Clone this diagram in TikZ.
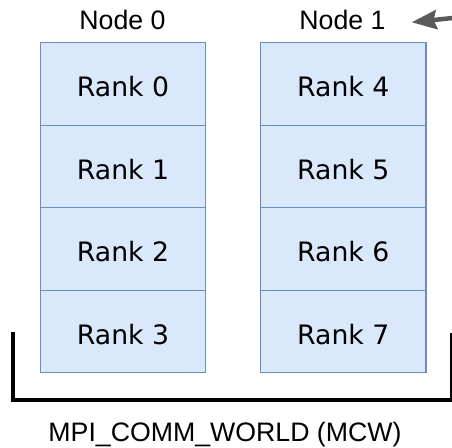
\documentclass[tikz,border=0pt]{standalone}
\usepackage{fontspec}
\setmainfont{Liberation Sans}
\newfontfamily\rankfont{DejaVu Sans}
\usetikzlibrary{arrows.meta}

\definecolor{rankfill}{HTML}{DAE8FC}
\definecolor{rankline}{HTML}{6C8EBF}
\definecolor{pointer}{HTML}{5A5A5A}

\tikzset{
  rankbox/.style={draw=rankline, fill=rankfill, line width=1.3pt,
    minimum width=165.5pt, minimum height=82.5pt, inner sep=0pt,
    font=\rankfont\fontsize{26.7}{32}\selectfont,
    text height=25.4pt, text depth=0pt},
  hostlabel/.style={anchor=base, inner sep=0pt,
    font=\fontsize{26.7}{32}\selectfont},
  bracket/.style={line width=4pt, line cap=butt},
  pointerline/.style={draw=pointer, line width=4.5pt,
    -{Stealth[length=25pt, width=19pt, inset=3pt]}}
}

\begin{document}
\begin{tikzpicture}[x=1pt, y=-1pt]
  \useasboundingbox (0,0) rectangle (452,447);

  % host labels
  \node[hostlabel] (host0) at (122.5,29.3) {Node 0};
  \node[hostlabel] (host1) at (342.5,29.3) {Node 1};

  % ranks on the first host
  \node[rankbox] (r0) at (123,84)    {Rank 0};
  \node[rankbox] (r1) at (123,166.5) {Rank 1};
  \node[rankbox] (r2) at (123,249)   {Rank 2};
  \node[rankbox] (r3) at (123,331.5) {Rank 3};

  % ranks on the second host
  \node[rankbox] (r4) at (343.25,84)    {Rank 4};
  \node[rankbox] (r5) at (343.25,166.5) {Rank 5};
  \node[rankbox] (r6) at (343.25,249)   {Rank 6};
  \node[rankbox] (r7) at (343.25,331.5) {Rank 7};

  % bracket enclosing all ranks
  \coordinate (brtl) at (13,331.7);
  \coordinate (brbl) at (13,399.7);
  \coordinate (brbr) at (452,399.7);
  \coordinate (brtr) at (452,332.7);
  \draw[bracket] (brtl) -- (brbl) -- (brbr) -- (brtr);

  \node[hostlabel] (mcw) at (225,441) {MPI\_COMM\_WORLD (MCW)};

  % pointer to the second host
  \coordinate (ptrtail) at (462,17);
  \coordinate (ptrtip) at (411.7,22.3);
  \draw[pointerline] (ptrtail) -- (ptrtip);
\end{tikzpicture}
\end{document}
